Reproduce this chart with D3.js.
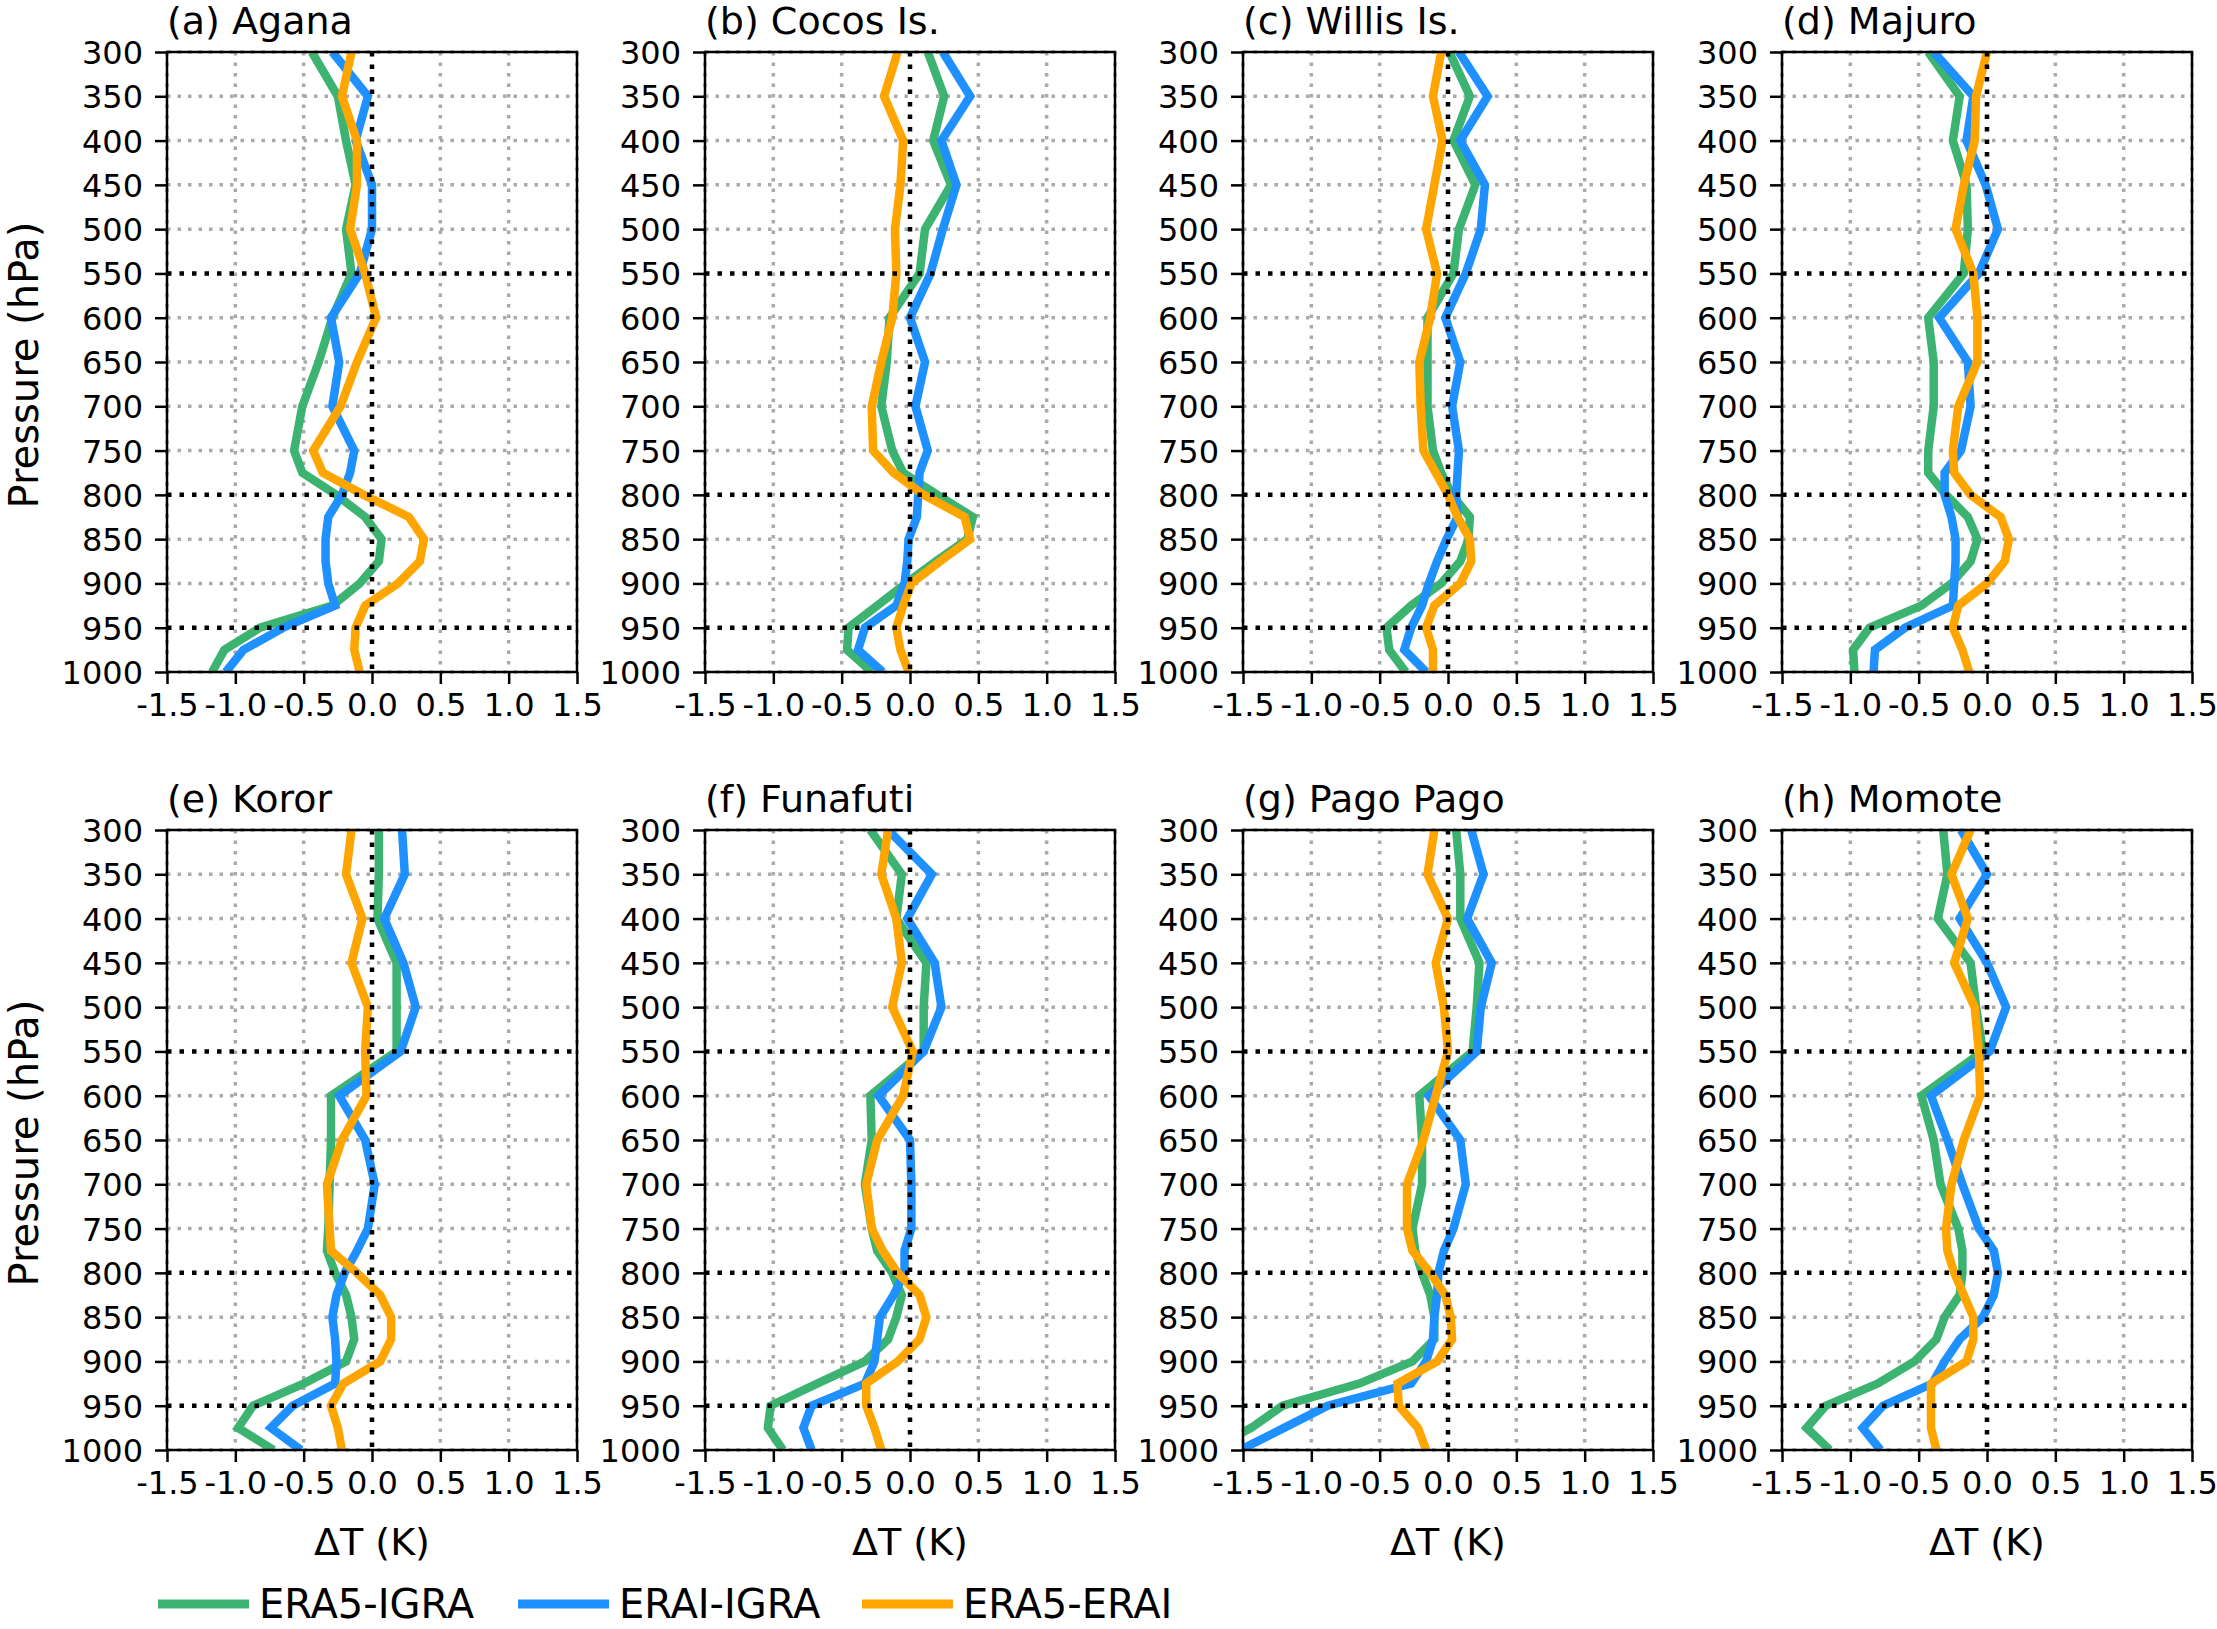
<!DOCTYPE html>
<html>
<head>
<meta charset="utf-8">
<script src="https://cdn.jsdelivr.net/npm/d3@7"></script>
<style>
  body { margin: 0; background: #fff; }
  svg { display: block; font-family: "DejaVu Sans", sans-serif; }
</style>
</head>
<body>
<svg id="chart" width="2217" height="1629"></svg>
<script>
// pressure levels (hPa)
const levels = [300, 350, 400, 450, 500, 550, 600, 650, 700, 750, 775, 800, 825, 850, 875, 900, 925, 950, 975, 1000];
const stations = ["(a) Agana", "(b) Cocos Is.", "(c) Willis Is.", "(d) Majuro",
                  "(e) Koror", "(f) Funafuti", "(g) Pago Pago", "(h) Momote"];
const xTicks = [-1.5, -1.0, -0.5, 0.0, 0.5, 1.0, 1.5];
const yTicks = [300, 350, 400, 450, 500, 550, 600, 650, 700, 750, 800, 850, 900, 950, 1000];
const blackY = [550, 800, 950];
const seriesNames = ["ERA5-IGRA", "ERAI-IGRA", "ERA5-ERAI"];
const seriesColors = ["mediumseagreen", "dodgerblue", "orange"];

// ERA5 - IGRA, one row per station
const era5Igra = [
  [-0.44,-0.25,-0.19,-0.12,-0.19,-0.15,-0.29,-0.39,-0.51,-0.57,-0.51,-0.26,-0.05,0.07,0.05,-0.09,-0.29,-0.82,-1.08,-1.17],
  [0.13,0.25,0.17,0.30,0.11,0.07,-0.15,-0.17,-0.21,-0.13,-0.05,0.20,0.46,0.42,0.19,-0.03,-0.24,-0.45,-0.46,-0.28],
  [0.01,0.16,0.04,0.20,0.08,0.04,-0.15,-0.15,-0.15,-0.11,-0.05,0.03,0.16,0.15,0.09,-0.05,-0.27,-0.45,-0.43,-0.31],
  [-0.43,-0.20,-0.25,-0.15,-0.14,-0.17,-0.43,-0.39,-0.39,-0.43,-0.43,-0.30,-0.14,-0.07,-0.12,-0.26,-0.48,-0.86,-0.98,-0.97],
  [0.05,0.05,0.04,0.18,0.18,0.18,-0.30,-0.30,-0.31,-0.32,-0.33,-0.27,-0.19,-0.15,-0.13,-0.19,-0.50,-0.87,-0.98,-0.72],
  [-0.29,-0.06,-0.10,0.12,0.10,0.10,-0.29,-0.28,-0.33,-0.28,-0.24,-0.13,-0.06,-0.10,-0.16,-0.33,-0.68,-1.02,-1.04,-0.93],
  [0.06,0.09,0.09,0.23,0.21,0.18,-0.21,-0.19,-0.19,-0.26,-0.24,-0.19,-0.13,-0.10,-0.10,-0.26,-0.65,-1.21,-1.44,-1.75],
  [-0.32,-0.29,-0.36,-0.12,-0.08,-0.03,-0.48,-0.39,-0.34,-0.21,-0.18,-0.18,-0.20,-0.31,-0.37,-0.53,-0.80,-1.18,-1.32,-1.15]
];
// ERAI - IGRA
const eraiIgra = [
  [-0.29,-0.03,-0.12,0.00,0.00,-0.09,-0.30,-0.24,-0.29,-0.13,-0.16,-0.22,-0.32,-0.34,-0.34,-0.32,-0.27,-0.65,-0.94,-1.07],
  [0.24,0.44,0.23,0.34,0.24,0.15,0.00,0.11,0.04,0.13,0.07,0.06,0.05,-0.01,-0.02,-0.04,-0.10,-0.33,-0.38,-0.20],
  [0.08,0.29,0.09,0.27,0.24,0.13,-0.02,0.09,0.03,0.08,0.07,0.06,0.07,-0.01,-0.08,-0.14,-0.19,-0.27,-0.32,-0.16],
  [-0.39,-0.10,-0.15,-0.01,0.08,-0.06,-0.35,-0.14,-0.12,-0.19,-0.31,-0.31,-0.26,-0.23,-0.23,-0.24,-0.25,-0.60,-0.82,-0.83],
  [0.22,0.24,0.09,0.23,0.32,0.21,-0.24,-0.05,0.02,-0.03,-0.11,-0.20,-0.26,-0.29,-0.27,-0.26,-0.27,-0.58,-0.74,-0.52],
  [-0.16,0.16,-0.02,0.18,0.23,0.10,-0.23,0.00,0.01,0.01,-0.04,-0.04,-0.12,-0.22,-0.24,-0.26,-0.33,-0.72,-0.78,-0.72],
  [0.17,0.26,0.14,0.32,0.24,0.21,-0.14,0.09,0.13,0.04,-0.03,-0.07,-0.08,-0.10,-0.11,-0.16,-0.27,-0.88,-1.20,-1.52],
  [-0.19,0.00,-0.20,0.00,0.14,0.02,-0.41,-0.29,-0.18,-0.06,0.05,0.08,0.05,-0.03,-0.20,-0.31,-0.40,-0.76,-0.91,-0.78]
];
// ERA5 - ERAI
const era5Erai = [
  [-0.15,-0.22,-0.11,-0.11,-0.16,-0.05,0.03,-0.11,-0.23,-0.43,-0.36,-0.06,0.27,0.38,0.35,0.19,-0.05,-0.12,-0.13,-0.09],
  [-0.09,-0.19,-0.05,-0.07,-0.11,-0.10,-0.13,-0.21,-0.28,-0.27,-0.12,0.10,0.40,0.44,0.22,0.01,-0.05,-0.10,-0.07,-0.01],
  [-0.05,-0.11,-0.04,-0.10,-0.16,-0.08,-0.13,-0.21,-0.20,-0.18,-0.09,0.00,0.07,0.16,0.17,0.09,-0.10,-0.16,-0.11,-0.11],
  [0.00,-0.08,-0.09,-0.17,-0.23,-0.10,-0.07,-0.07,-0.21,-0.25,-0.24,-0.12,0.10,0.16,0.13,0.00,-0.21,-0.25,-0.18,-0.13],
  [-0.15,-0.19,-0.07,-0.15,-0.03,-0.05,-0.04,-0.22,-0.33,-0.31,-0.30,-0.11,0.06,0.14,0.14,0.06,-0.21,-0.30,-0.25,-0.22],
  [-0.16,-0.21,-0.10,-0.06,-0.13,0.02,-0.05,-0.24,-0.32,-0.28,-0.20,-0.09,0.07,0.12,0.07,-0.09,-0.32,-0.32,-0.26,-0.21],
  [-0.10,-0.15,0.00,-0.09,-0.03,0.00,-0.09,-0.18,-0.30,-0.30,-0.26,-0.13,-0.02,0.02,0.03,-0.08,-0.37,-0.36,-0.22,-0.16],
  [-0.12,-0.26,-0.14,-0.24,-0.09,-0.06,-0.05,-0.17,-0.26,-0.30,-0.29,-0.24,-0.17,-0.10,-0.10,-0.15,-0.41,-0.41,-0.41,-0.37]
];
const allSeries = [era5Igra, eraiIgra, era5Erai];

const svg = d3.select("#chart");
const W = 410, H = 620;
const colX = [167, 705, 1243, 1782];
const rowY = [52, 830];

const x = d3.scaleLinear().domain([-1.5, 1.5]).range([0, W]);
const y = d3.scaleLinear().domain([300, 1000]).range([0, H]);

svg.append("defs").append("clipPath").attr("id", "plotclip")
  .append("rect").attr("width", W).attr("height", H);

stations.forEach((name, i) => {
  const row = Math.floor(i / 4), col = i % 4;
  const g = svg.append("g").attr("transform", `translate(${colX[col]},${rowY[row]})`);

  // gray dotted grid
  g.selectAll(".gx").data(xTicks.filter(d => d !== 0)).join("line")
    .attr("x1", d => x(d)).attr("x2", d => x(d)).attr("y1", 0).attr("y2", H)
    .attr("stroke", "#aaaaaa").attr("stroke-width", 3.5).attr("stroke-dasharray", "3.5,7");
  g.selectAll(".gy").data(yTicks.filter(d => !blackY.includes(d))).join("line")
    .attr("x1", 0).attr("x2", W).attr("y1", d => y(d)).attr("y2", d => y(d))
    .attr("stroke", "#aaaaaa").attr("stroke-width", 3.5).attr("stroke-dasharray", "3.5,7");

  // profiles
  const line = d3.line().x(d => x(d[0])).y(d => y(d[1]));
  const plot = g.append("g").attr("clip-path", "url(#plotclip)");
  allSeries.forEach((s, k) => {
    plot.append("path")
      .datum(s[i].map((v, j) => [v, levels[j]]))
      .attr("d", line)
      .attr("fill", "none")
      .attr("stroke", seriesColors[k])
      .attr("stroke-width", 8.5)
      .attr("stroke-linejoin", "miter");
  });

  // black dotted reference lines
  g.append("line").attr("x1", x(0)).attr("x2", x(0)).attr("y1", 0).attr("y2", H)
    .attr("stroke", "#000").attr("stroke-width", 4.5).attr("stroke-dasharray", "4.5,8");
  g.selectAll(".by").data(blackY).join("line")
    .attr("x1", 0).attr("x2", W).attr("y1", d => y(d)).attr("y2", d => y(d))
    .attr("stroke", "#000").attr("stroke-width", 4.5).attr("stroke-dasharray", "4.5,8");

  // axes
  const ya = g.append("g").call(d3.axisLeft(y).tickValues(yTicks).tickFormat(d3.format("d"))
    .tickSize(12).tickPadding(12));
  const xa = g.append("g").attr("transform", `translate(0,${H})`)
    .call(d3.axisBottom(x).tickValues(xTicks).tickFormat(d => d.toFixed(1))
    .tickSize(12).tickPadding(9));
  [ya, xa].forEach(a => {
    a.select(".domain").remove();
    a.selectAll(".tick line").attr("stroke", "#000").attr("stroke-width", 2.5);
    a.selectAll(".tick text").attr("fill", "#000").attr("font-size", 32)
      .attr("font-family", "DejaVu Sans");
  });
  ya.selectAll(".tick text").attr("dy", "0.36em");

  g.append("rect").attr("width", W).attr("height", H)
    .attr("fill", "none").attr("stroke", "#000").attr("stroke-width", 2.5);

  g.append("text").attr("x", 0).attr("y", -18)
    .attr("font-size", 38).attr("fill", "#000").text(name);

  if (col === 0) {
    g.append("text")
      .attr("transform", `translate(${24 - colX[0]},${H / 2 + 3}) rotate(-90)`)
      .attr("text-anchor", "middle").attr("dy", "0.36em")
      .attr("font-size", 40).text("Pressure (hPa)");
  }
  if (row === 1) {
    g.append("text").attr("x", W / 2).attr("y", H + 105)
      .attr("text-anchor", "middle").attr("font-size", 38).text("ΔT (K)");
  }
});

// legend
const legX = [158, 518, 862];
const leg = svg.append("g").attr("transform", "translate(0,1604)");
seriesNames.forEach((n, k) => {
  leg.append("line").attr("x1", legX[k]).attr("x2", legX[k] + 91)
    .attr("y1", 0).attr("y2", 0)
    .attr("stroke", seriesColors[k]).attr("stroke-width", 9);
  leg.append("text").attr("x", legX[k] + 101).attr("y", 0).attr("dy", "0.36em")
    .attr("font-size", 40).text(n);
});
</script>
</body>
</html>
